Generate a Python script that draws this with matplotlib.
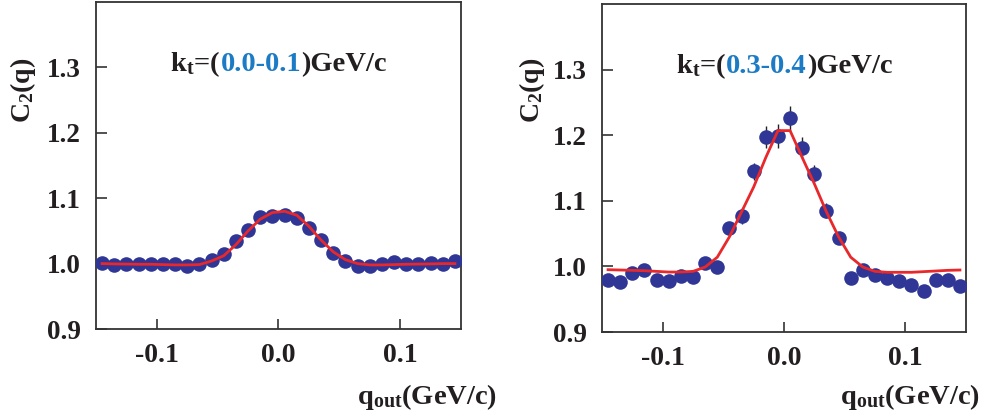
import matplotlib
matplotlib.use("Agg")
import matplotlib.pyplot as plt
from matplotlib.offsetbox import TextArea, HPacker, AnnotationBbox

plt.rcParams['font.family'] = ['Liberation Serif', 'DejaVu Serif']
plt.rcParams['font.weight'] = 'bold'
plt.rcParams['mathtext.fontset'] = 'custom'
plt.rcParams['mathtext.rm'] = 'Liberation Serif:bold'
plt.rcParams['mathtext.it'] = 'Liberation Serif:bold'
plt.rcParams['mathtext.bf'] = 'Liberation Serif:bold'

# ---------------- data ----------------
q = [-0.145, -0.135, -0.125, -0.115, -0.105, -0.095, -0.085, -0.075, -0.065, -0.055,
     -0.045, -0.035, -0.025, -0.015, -0.005, 0.005, 0.015, 0.025, 0.035, 0.045,
     0.055, 0.065, 0.075, 0.085, 0.095, 0.105, 0.115, 0.125, 0.135, 0.145]

c2_kt1 = [1.001, 0.998, 0.999, 1.000, 1.000, 1.000, 1.000, 0.997, 0.999, 1.006,
          1.014, 1.034, 1.052, 1.071, 1.073, 1.075, 1.070, 1.055, 1.036, 1.016,
          1.004, 0.997, 0.997, 0.999, 1.002, 1.000, 1.000, 1.001, 0.999, 1.004]
err_kt1 = [0.003] * 30
fit_kt1 = [1.000, 0.9995, 0.9993, 0.999, 0.999, 0.9985, 0.998, 0.998, 0.9985, 1.004,
           1.012, 1.029, 1.050, 1.068, 1.078, 1.080, 1.074, 1.057, 1.036, 1.018,
           1.006, 1.000, 0.998, 0.998, 0.9985, 0.999, 0.9993, 0.9995, 1.000, 1.000]

c2_kt4 = [0.980, 0.976, 0.990, 0.994, 0.980, 0.977, 0.986, 0.984, 1.005, 0.999,
          1.058, 1.077, 1.145, 1.197, 1.199, 1.226, 1.181, 1.141, 1.085, 1.043,
          0.983, 0.995, 0.987, 0.983, 0.978, 0.971, 0.963, 0.980, 0.980, 0.970]
err_kt4 = [0.006, 0.006, 0.006, 0.006, 0.006, 0.006, 0.006, 0.006, 0.006, 0.006,
           0.008, 0.012, 0.013, 0.017, 0.018, 0.019, 0.016, 0.013, 0.011, 0.009,
           0.006, 0.006, 0.006, 0.006, 0.006, 0.006, 0.006, 0.006, 0.006, 0.006]
fit_kt4 = [0.995, 0.9945, 0.994, 0.9934, 0.9924, 0.9914, 0.9914, 0.9924, 0.999, 1.014,
           1.045, 1.083, 1.121, 1.166, 1.207, 1.207, 1.166, 1.126, 1.083, 1.045,
           1.014, 0.999, 0.9924, 0.991, 0.991, 0.991, 0.992, 0.993, 0.994, 0.9945]

kt_ranges = ["0.0-0.1", "0.3-0.4"]
xticks = [-0.1, 0.0, 0.1]
xticklabels = ["-0.1", "0.0", "0.1"]
yticks = [0.9, 1.0, 1.1, 1.2, 1.3]
yticklabels = ["0.9", "1.0", "1.1", "1.2", "1.3"]

# ---------------- styles ----------------
W, H = 987, 419
marker_col = '#2f3695'
fit_col = '#e8282b'
kt_col = '#1b7bc4'
spine_col = '#333333'
txt_col = '#231f20'

fig = plt.figure(figsize=(W / 100, H / 100), dpi=100)

panels = [
    dict(rect=[96 / W, 1 - 329 / H, 365 / W, 327 / H], y=c2_kt1, e=err_kt1, f=fit_kt1,
         kt=kt_ranges[0], ylab_x=23, xlab_x=427),
    dict(rect=[602 / W, 1 - 332 / H, 364 / W, 328 / H], y=c2_kt4, e=err_kt4, f=fit_kt4,
         kt=kt_ranges[1], ylab_x=532, xlab_x=910),
]

for p in panels:
    ax = fig.add_axes(p['rect'])
    ax.errorbar(q, p['y'], yerr=p['e'], fmt='none', ecolor='#222222', elinewidth=1.0,
                capsize=0, zorder=2)
    ax.plot(q, p['y'], 'o', color=marker_col, ms=10.5, mec='none', zorder=3)
    ax.plot(q, p['f'], '-', color=fit_col, lw=2.0, zorder=4)
    ax.set_xlim(-0.15, 0.15)
    ax.set_ylim(0.9, 1.4)
    ax.set_xticks(xticks)
    ax.set_xticklabels(xticklabels)
    ax.set_yticks(yticks)
    ax.set_yticklabels(yticklabels)
    ax.tick_params(axis='x', direction='in', length=7, width=1.2, color=spine_col,
                   labelsize=20, pad=10, top=False, labelcolor=txt_col)
    ax.tick_params(axis='y', direction='in', length=8, width=1.2, color=spine_col,
                   labelsize=19.5, pad=11, right=False, labelcolor=txt_col)
    for s in ax.spines.values():
        s.set_color(spine_col)
        s.set_linewidth(1.3)

    parts = [
        TextArea(r"k$_{t}$=(", textprops=dict(color=txt_col, fontsize=20.5, fontweight='bold')),
        TextArea(p['kt'], textprops=dict(color=kt_col, fontsize=20.5, fontweight='bold')),
        TextArea(")GeV/c", textprops=dict(color=txt_col, fontsize=20.5, fontweight='bold')),
    ]
    box = HPacker(children=parts, align='baseline', pad=0, sep=0)
    ab = AnnotationBbox(box, (0.5, 0.81), xycoords='axes fraction', frameon=False,
                        box_alignment=(0.5, 0.5), pad=0)
    ax.add_artist(ab)

    fig.text(p['ylab_x'] / W, 1 - 90 / H, r"C$_{2}$(q)", rotation=90, ha='center',
             va='center', fontsize=20, fontweight='bold', color=txt_col)
    fig.text(p['xlab_x'] / W, 1 - 404 / H, r"q$_{out}$(GeV/c)", ha='center',
             va='baseline', fontsize=20.5, fontweight='bold', color=txt_col)

fig.savefig("out.png", dpi=100)
